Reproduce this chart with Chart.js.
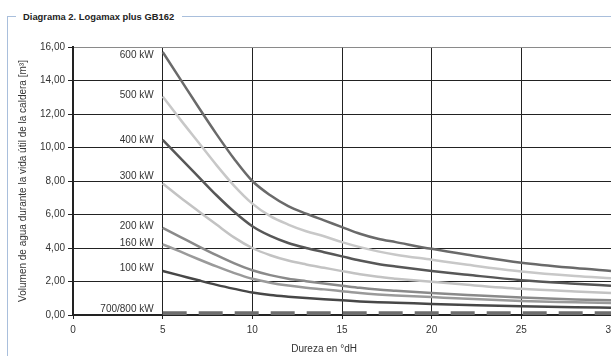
<!DOCTYPE html>
<html>
<head>
<meta charset="utf-8">
<script src="https://cdn.jsdelivr.net/npm/chart.js@4/dist/chart.umd.min.js"></script>
<style>
  body { margin: 0; width: 611px; height: 356px; overflow: hidden; background: #fff; font-family: "Liberation Sans", Arial, sans-serif; position: relative; }
  #frameLeft { position: absolute; left: 7px; top: 17px; width: 1px; height: 339px; background: #a9bfdc; }
  #frameTop1 { position: absolute; left: 7px; top: 16px; width: 9px; height: 1px; background: #a9bfdc; }
  #frameTop2 { position: absolute; left: 182px; top: 16px; width: 429px; height: 1px; background: #a9bfdc; }
  #title { position: absolute; left: 23px; top: 11px; font-size: 9.4px; font-weight: bold; color: #222; }
  #wrap { position: absolute; left: 0; top: 0; }
</style>
</head>
<body>
<div id="frameLeft"></div>
<div id="frameTop1"></div>
<div id="frameTop2"></div>
<div id="title">Diagrama 2. Logamax plus GB162</div>
<div id="wrap"><canvas id="chart" width="650" height="356"></canvas></div>
<script>
const hardness = [5, 6, 7, 8, 9, 10, 11, 12, 13, 14, 15, 16, 17, 18, 20, 22, 25, 28, 30];

const kw600 = [15.7, 14.05, 12.4, 10.8, 9.3, 8.0, 7.15, 6.5, 6.05, 5.65, 5.25, 4.85, 4.55, 4.35, 3.95, 3.6, 3.12, 2.8, 2.63];
const kw500 = [13.05, 11.65, 10.3, 8.95, 7.7, 6.65, 5.9, 5.4, 5.0, 4.7, 4.35, 4.05, 3.8, 3.6, 3.3, 3.0, 2.6, 2.33, 2.2];
const kw400 = [10.45, 9.35, 8.25, 7.15, 6.15, 5.3, 4.72, 4.3, 4.0, 3.75, 3.5, 3.25, 3.05, 2.9, 2.63, 2.4, 2.08, 1.87, 1.75];
const kw300 = [7.85, 7.0, 6.2, 5.4, 4.62, 4.0, 3.57, 3.25, 3.02, 2.82, 2.62, 2.43, 2.28, 2.17, 1.98, 1.8, 1.56, 1.4, 1.31];
const kw200 = [5.2, 4.65, 4.1, 3.57, 3.08, 2.67, 2.38, 2.17, 2.02, 1.88, 1.75, 1.62, 1.52, 1.45, 1.32, 1.2, 1.04, 0.93, 0.88];
const kw160 = [4.22, 3.78, 3.33, 2.9, 2.5, 2.16, 1.93, 1.76, 1.63, 1.53, 1.42, 1.31, 1.23, 1.17, 1.07, 0.97, 0.84, 0.76, 0.71];
const kw100 = [2.63, 2.35, 2.07, 1.8, 1.56, 1.34, 1.19, 1.09, 1.01, 0.94, 0.88, 0.81, 0.76, 0.73, 0.66, 0.6, 0.52, 0.47, 0.44];
const kw700800 = [0.1, 0.1, 0.1, 0.1, 0.1, 0.1, 0.1, 0.1, 0.1, 0.1, 0.1, 0.1, 0.1, 0.1, 0.1, 0.1, 0.1, 0.1, 0.1];

const seriesLabels = ['600 kW', '500 kW', '400 kW', '300 kW', '200 kW', '160 kW', '100 kW', '700/800 kW'];
const seriesValues = [kw600, kw500, kw400, kw300, kw200, kw160, kw100, kw700800];
const seriesColors = ['#6a6a6a', '#c8c8c8', '#575757', '#c3c3c3', '#8a8a8a', '#9a9a9a', '#474747', '#6e6e6e'];
// small vertical nudge of the series name relative to its first point
const labelOffsets = [3, -1, 0, -7, -2, -1, -3, -4];

const fontFamily = '"Liberation Sans", Arial, sans-serif';

function toPoints(vals) {
    return vals.map((v, i) => ({ x: hardness[i], y: v }));
}

const datasets = seriesValues.map((vals, i) => ({
    label: seriesLabels[i],
    data: toPoints(vals),
    borderColor: seriesColors[i],
    borderWidth: i === 7 ? 4 : 2.5,
    borderDash: i === 7 ? [24, 12] : [],
    borderCapStyle: 'butt',
    pointRadius: 0,
    cubicInterpolationMode: 'monotone',
    fill: false
}));

const seriesNames = {
    id: 'seriesNames',
    afterDatasetsDraw(chart) {
        const ctx = chart.ctx;
        const xs = chart.scales.x;
        const ys = chart.scales.y;
        ctx.save();
        ctx.font = '10px ' + fontFamily;
        ctx.fillStyle = '#333';
        ctx.textAlign = 'right';
        ctx.textBaseline = 'middle';
        seriesValues.forEach((vals, i) => {
            const px = xs.getPixelForValue(hardness[0]) - 9;
            const py = ys.getPixelForValue(vals[0]) + labelOffsets[i];
            ctx.fillText(seriesLabels[i], px, py);
        });
        // x axis title sits a bit left of the plot centre in the original
        ctx.textAlign = 'center';
        ctx.fillText('Dureza en °dH', xs.getPixelForValue(14), xs.bottom + 8);
        ctx.restore();
    }
};

new Chart(document.getElementById('chart'), {
    type: 'line',
    data: { datasets: datasets },
    options: {
        responsive: false,
        animation: false,
        layout: { padding: { top: 47, left: 17, right: 39, bottom: 15 } },
        plugins: { legend: { display: false }, tooltip: { enabled: false } },
        scales: {
            x: {
                type: 'linear',
                min: 0,
                max: 30,
                ticks: { stepSize: 5, color: '#333', font: { size: 10, family: fontFamily }, padding: 5 },
                grid: { color: '#222', lineWidth: 1, tickLength: 4, tickColor: '#222' },
                border: { color: '#222', width: 2 }
            },
            y: {
                min: 0,
                max: 16,
                ticks: {
                    stepSize: 2,
                    color: '#333',
                    font: { size: 10, family: fontFamily },
                    padding: 3,
                    callback: v => v.toFixed(2).replace('.', ',')
                },
                grid: { color: ctx => ctx.tick && ctx.tick.value === 16 ? '#8a8a8a' : '#222', lineWidth: 1, tickLength: 5, tickColor: '#222' },
                border: { color: '#222', width: 2 },
                title: { display: true, text: 'Volumen de agua durante la vida útil de la caldera [m³]', color: '#333', font: { size: 10, family: fontFamily }, padding: { top: 0, bottom: 8 } }
            }
        }
    },
    plugins: [seriesNames]
});
</script>
</body>
</html>
